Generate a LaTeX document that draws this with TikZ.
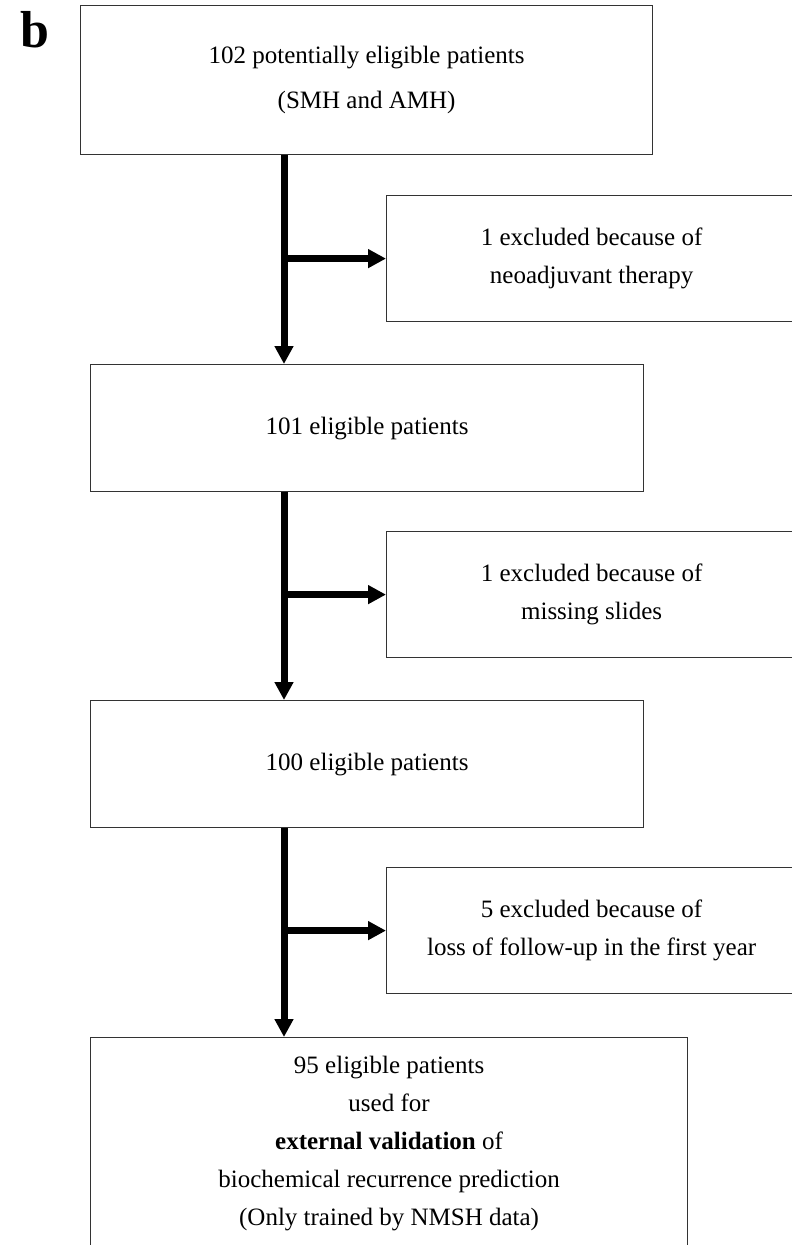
\documentclass[tikz,border=0pt]{standalone}
\usepackage{fontspec}
\setmainfont{Liberation Serif}
\usetikzlibrary{arrows.meta,positioning}
\tikzset{every picture/.style={
  >={Triangle[length=18pt,width=18pt]}   % Big solid arrow heads.
  }
}
\newcommand{\flowfont}{\fontsize{25}{38}\selectfont}

\begin{document}
\begin{tikzpicture}[
        x=1pt, y=-1pt,
        box/.style={
          draw=black!80,
          line width=1.2pt,
          inner sep=0pt,
          align=center,
          font=\flowfont,
          anchor=north west
        },
        mainbox/.style={box, minimum width=553pt, minimum height=127pt},
        exclbox/.style={box, minimum width=410pt, minimum height=126pt},
        flow/.style={line width=7pt, ->}]

        \useasboundingbox (0,0) rectangle (792,1245);
        \clip (0,0) rectangle (792,1245);

        % Panel label.
        \node[anchor=base west, inner sep=0pt,
          font=\fontsize{52}{52}\selectfont\bfseries] (lbl) at (20,47) {b};

        % Main column of boxes.
        \node[box, minimum width=572pt, minimum height=149pt] (pot) at (80,5)
          {102 potentially eligible patients\\[7pt] (SMH and AMH)};
        \node[mainbox] (elig1) at (90,364) {101 eligible patients};
        \node[mainbox] (elig2) at (90,700) {100 eligible patients};
        \node[box, minimum width=597pt, minimum height=212pt] (final) at (90,1037)
          {95 eligible patients\\ used for\\ \textbf{external validation} of\\
           biochemical recurrence prediction\\ (Only trained by NMSH data)};

        % Exclusion boxes.
        \node[exclbox] (ex1) at (386,195) {1 excluded because of\\ neoadjuvant therapy};
        \node[exclbox] (ex2) at (386,531) {1 excluded because of\\ missing slides};
        \node[exclbox] (ex3) at (386,867) {5 excluded because of\\ loss of follow-up in the first year};

        % Trunk line and branches.
        \coordinate (trunk) at (284,0);
        \draw[flow] (pot.south -| trunk) -- (elig1.north -| trunk);
        \draw[flow] (elig1.south -| trunk) -- (elig2.north -| trunk);
        \draw[flow] (elig2.south -| trunk) -- (final.north -| trunk);
        \foreach \ex in {ex1,ex2,ex3}
          \draw[flow] (\ex.west -| trunk) -- (\ex.west);
      \end{tikzpicture}
\end{document}
